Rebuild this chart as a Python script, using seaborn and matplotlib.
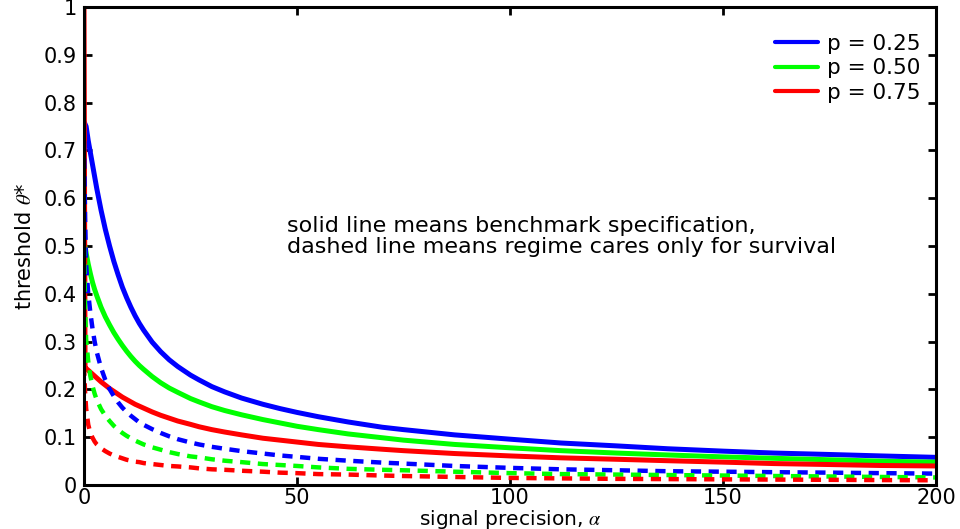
import matplotlib
matplotlib.use("Agg")
import matplotlib.pyplot as plt
import seaborn as sns

# signal precision grid
alpha = [0, 0.25, 0.5, 1, 1.5, 2, 2.5, 3, 4, 5, 6, 7, 8, 9, 10, 11, 12, 13, 14,
         16, 18, 20, 22, 25, 27, 30, 33, 37, 42, 46, 50, 55, 62, 70, 75, 87,
         100, 112, 125, 137, 150, 162, 175, 187, 200]

# benchmark specification (solid lines)
bench_25 = [0.76, 0.755, 0.75, 0.72, 0.695, 0.67, 0.645, 0.62, 0.575, 0.535, 0.50,
            0.468, 0.44, 0.414, 0.392, 0.372, 0.354, 0.338, 0.324, 0.299, 0.279,
            0.262, 0.248, 0.230, 0.220, 0.206, 0.195, 0.182, 0.169, 0.160, 0.152,
            0.143, 0.132, 0.121, 0.116, 0.105, 0.096, 0.088, 0.082, 0.076, 0.071,
            0.067, 0.064, 0.061, 0.058]
bench_50 = [0.505, 0.50, 0.485, 0.462, 0.442, 0.424, 0.409, 0.396, 0.372, 0.352,
            0.335, 0.319, 0.305, 0.292, 0.280, 0.269, 0.259, 0.250, 0.242, 0.227,
            0.214, 0.203, 0.194, 0.181, 0.174, 0.164, 0.156, 0.147, 0.137, 0.130,
            0.123, 0.116, 0.107, 0.099, 0.094, 0.085, 0.078, 0.072, 0.067, 0.063,
            0.059, 0.056, 0.053, 0.050, 0.048]
bench_75 = [1.0, 0.246, 0.244, 0.240, 0.236, 0.232, 0.228, 0.224, 0.216, 0.209,
            0.202, 0.196, 0.190, 0.184, 0.179, 0.174, 0.169, 0.165, 0.161, 0.153,
            0.146, 0.140, 0.134, 0.127, 0.122, 0.116, 0.111, 0.105, 0.098, 0.094,
            0.090, 0.085, 0.080, 0.075, 0.072, 0.066, 0.061, 0.057, 0.054, 0.051,
            0.048, 0.045, 0.043, 0.041, 0.040]

# regime cares only for survival (dashed lines)
surv_25 = [0.72, 0.56, 0.46, 0.40, 0.36, 0.327, 0.300, 0.278, 0.245, 0.220, 0.201,
           0.186, 0.173, 0.162, 0.153, 0.145, 0.138, 0.131, 0.126, 0.117, 0.109,
           0.102, 0.096, 0.089, 0.085, 0.080, 0.076, 0.071, 0.066, 0.062, 0.059,
           0.055, 0.051, 0.047, 0.045, 0.040, 0.036, 0.033, 0.031, 0.029, 0.028,
           0.027, 0.026, 0.025, 0.024]
surv_50 = [0.50, 0.37, 0.305, 0.258, 0.228, 0.207, 0.191, 0.178, 0.159, 0.145,
           0.134, 0.124, 0.116, 0.109, 0.103, 0.098, 0.093, 0.089, 0.085, 0.079,
           0.074, 0.069, 0.065, 0.060, 0.058, 0.054, 0.051, 0.048, 0.044, 0.042,
           0.040, 0.037, 0.034, 0.032, 0.031, 0.028, 0.025, 0.023, 0.022, 0.021,
           0.020, 0.019, 0.018, 0.017, 0.016]
surv_75 = [0.25, 0.195, 0.16, 0.126, 0.109, 0.099, 0.091, 0.085, 0.077, 0.071,
           0.066, 0.062, 0.059, 0.056, 0.053, 0.051, 0.049, 0.048, 0.046, 0.044,
           0.042, 0.040, 0.039, 0.037, 0.035, 0.033, 0.032, 0.030, 0.028, 0.026,
           0.025, 0.023, 0.022, 0.020, 0.019, 0.017, 0.015, 0.014, 0.013, 0.0125,
           0.012, 0.0115, 0.011, 0.0105, 0.010]

labels = ["p = 0.25", "p = 0.50", "p = 0.75"]
colors = ["#0000ff", "#00ff00", "#ff0000"]
xticks = [0, 50, 100, 150, 200]
yticks = [0, 0.1, 0.2, 0.3, 0.4, 0.5, 0.6, 0.7, 0.8, 0.9, 1]
ytick_labels = ["0", "0.1", "0.2", "0.3", "0.4", "0.5", "0.6", "0.7", "0.8", "0.9", "1"]

for s in [bench_25, bench_50, bench_75, surv_25, surv_50, surv_75]:
    assert len(s) == len(alpha), len(s)

sns.set_theme(style="ticks")
plt.rcParams["font.family"] = ["DejaVu Sans"]
plt.rcParams["mathtext.fontset"] = "stix"
plt.rcParams["text.color"] = "black"
plt.rcParams["axes.labelcolor"] = "black"

fig = plt.figure(figsize=(9.6, 5.29), dpi=100)
ax = fig.add_axes([0.0875, 0.083, 0.8875, 0.904])

for vals, c, lab in zip([bench_25, bench_50, bench_75], colors, labels):
    sns.lineplot(x=alpha, y=vals, ax=ax, color=c, lw=3.6, label=lab)

for vals, c in zip([surv_25, surv_50, surv_75], colors):
    sns.lineplot(x=alpha, y=vals, ax=ax, color=c, lw=3.2, linestyle="--")
    ax.lines[-1].set_dashes((2.3, 1.7))

ax.set_xlim(0, 200)
ax.set_ylim(0, 1)
ax.set_xticks(xticks)
ax.set_xticklabels([str(t) for t in xticks])
ax.set_yticks(yticks)
ax.set_yticklabels(ytick_labels)
ax.tick_params(direction="in", length=6, width=2, top=True, right=True,
               labelsize=15, colors="black")
ax.tick_params(axis="x", pad=2)
ax.tick_params(axis="y", pad=5)
for s in ax.spines.values():
    s.set_visible(True)
    s.set_linewidth(2.2)
    s.set_color("black")

ax.set_xlabel(r"signal precision, $\alpha$", fontsize=14.5, labelpad=0, color="black")
ax.set_ylabel(r"threshold $\theta$*", fontsize=15, labelpad=6, color="black")

ax.text(47.7, 0.52, "solid line means benchmark specification,\n"
        "dashed line means regime cares only for survival",
        fontsize=16, va="center", ha="left", linespacing=1.05, color="black")

leg = ax.legend(loc="upper right", bbox_to_anchor=(1.0, 0.975), frameon=False,
                fontsize=15.5, handlelength=2.0, labelspacing=0.2, handletextpad=0.45,
                borderaxespad=0.3, labelcolor="black")
for h in leg.get_lines():
    h.set_linewidth(3)

fig.savefig("out.png", dpi=100)
